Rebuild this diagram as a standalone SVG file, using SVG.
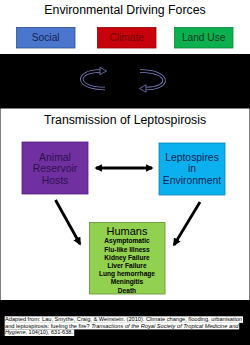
<svg xmlns="http://www.w3.org/2000/svg" width="250" height="345" viewBox="0 0 250 345">
<defs>
<style>
text{font-family:"Liberation Sans",Arial,sans-serif;text-anchor:middle}
.title{font-size:12.3px;fill:#000}
.drv{font-size:10.2px}
.node{font-size:10.4px}
.hum{font-size:7.5px;font-weight:bold;fill:#000}
.cite{font-size:5.55px;fill:#000;text-anchor:start}
.circ{fill:none;stroke:#7c82c4;stroke-width:3.4}
.circin{fill:none;stroke:#000;stroke-width:1.8}
.ahd{fill:#000;stroke:#7c82c4;stroke-width:0.8}
.conn{stroke:#000;stroke-width:2.8;fill:none}
</style>
<marker id="ah" viewBox="0 0 10 10" refX="8" refY="5" markerWidth="8" markerHeight="8" markerUnits="userSpaceOnUse" orient="auto-start-reverse">
<path d="M0,0 L10,5 L0,10 z" fill="#000"/>
</marker>
</defs>
<rect x="0" y="0" width="250" height="345" fill="#000"/>
<rect x="0" y="0" width="250" height="54" fill="#fff"/>
<rect x="0.5" y="108.5" width="249" height="191.5" fill="#fff"/>

<text class="title" x="125" y="13.8">Environmental Driving Forces</text>
<g id="social">
<rect x="16.5" y="27.5" width="58.5" height="20.5" fill="#4a77cd" stroke="#2f528f" stroke-width="0.8"/>
<text class="drv" x="45.7" y="41.2" fill="#13224f">Social</text>
</g>
<g id="climate">
<rect x="97.5" y="27.5" width="58.5" height="20.5" fill="#c8000b" stroke="#8f0000" stroke-width="0.8"/>
<text class="drv" x="126.7" y="41.2" fill="#6e0606">Climate</text>
</g>
<g id="landuse">
<rect x="174.5" y="27.5" width="58.5" height="20.5" fill="#0db04f" stroke="#0a8a3c" stroke-width="0.8"/>
<text class="drv" x="203.7" y="41.2" fill="#0a3a1c">Land Use</text>
</g>

<g id="cycle">
<path class="circ" d="M105,88.5 C75,88.5 75,71 100,71"/>
<path class="circin" d="M105,88.5 C75,88.5 75,71 100,71"/>
<polygon class="ahd" points="100,67.3 106.5,71 100,74.7"/>
<path class="circ" d="M140,71 C171,71 171,88.5 146,88.5"/>
<path class="circin" d="M140,71 C171,71 171,88.5 146,88.5"/>
<polygon class="ahd" points="146,84.8 139.5,88.5 146,92.2"/>
</g>

<text class="title" x="125" y="123.5">Transmission of Leptospirosis</text>

<g id="animal">
<rect x="22" y="142" width="66" height="52" fill="#7030a0" stroke="#50207a" stroke-width="0.8"/>
<text class="node" x="55" y="160.5" fill="#2e1050">Animal</text>
<text class="node" x="55" y="172.2" fill="#2e1050">Reservoir</text>
<text class="node" x="55" y="183.7" fill="#2e1050">Hosts</text>
</g>
<g id="leptospires">
<rect x="159" y="143" width="66" height="52" fill="#0bb0ee" stroke="#0a86b8" stroke-width="0.8"/>
<text class="node" x="192" y="160.5" fill="#0b2455">Leptospires</text>
<text class="node" x="192" y="172.2" fill="#0b2455">in</text>
<text class="node" x="192" y="183.7" fill="#0b2455">Environment</text>
</g>
<g id="humans">
<rect x="89.5" y="222.5" width="75.5" height="71.5" fill="#92d050" stroke="#6a9a3a" stroke-width="0.9"/>
<text x="127" y="235" style="font-size:11px;fill:#000">Humans</text>
<g transform="translate(127,0) scale(0.88,1)">
<text class="hum" x="0" y="243.4">Asymptomatic</text>
<text class="hum" x="0" y="251.6">Flu-like Illness</text>
<text class="hum" x="0" y="259.8">Kidney Failure</text>
<text class="hum" x="0" y="268">Liver Failure</text>
<text class="hum" x="0" y="276.2">Lung hemorrhage</text>
<text class="hum" x="0" y="284.4">Meningitis</text>
<text class="hum" x="0" y="292.6">Death</text>
</g>
</g>

<g id="connectors">
<path class="conn" stroke-width="3" d="M96,168 L152,168" marker-start="url(#ah)" marker-end="url(#ah)"/>
<path class="conn" d="M55.5,200 L80,244" marker-end="url(#ah)"/>
<path class="conn" d="M200,202 L174,245" marker-end="url(#ah)"/>
</g>

<g id="citation">
<rect x="4.7" y="316.3" width="238.3" height="6.6" fill="#fff"/>
<rect x="4.7" y="322.9" width="234.5" height="6.5" fill="#fff"/>
<rect x="4.7" y="329.4" width="69.5" height="6.6" fill="#fff"/>
<text class="cite" x="5" y="321.2" textLength="237" lengthAdjust="spacingAndGlyphs">Adapted from: Lau, Smythe, Craig, &amp; Weinstein. (2010). Climate change, flooding, urbanisation</text>
<text class="cite" x="5" y="327.8" textLength="233.5" lengthAdjust="spacingAndGlyphs">and leptospirosis: fueling the fire? <tspan font-style="italic">Transactions of the Royal Society of Tropical Medicine and</tspan></text>
<text class="cite" x="5" y="334.4" textLength="68" lengthAdjust="spacingAndGlyphs"><tspan font-style="italic">Hygiene</tspan>, 104(10), 631-638.</text>
</g>
</svg>
